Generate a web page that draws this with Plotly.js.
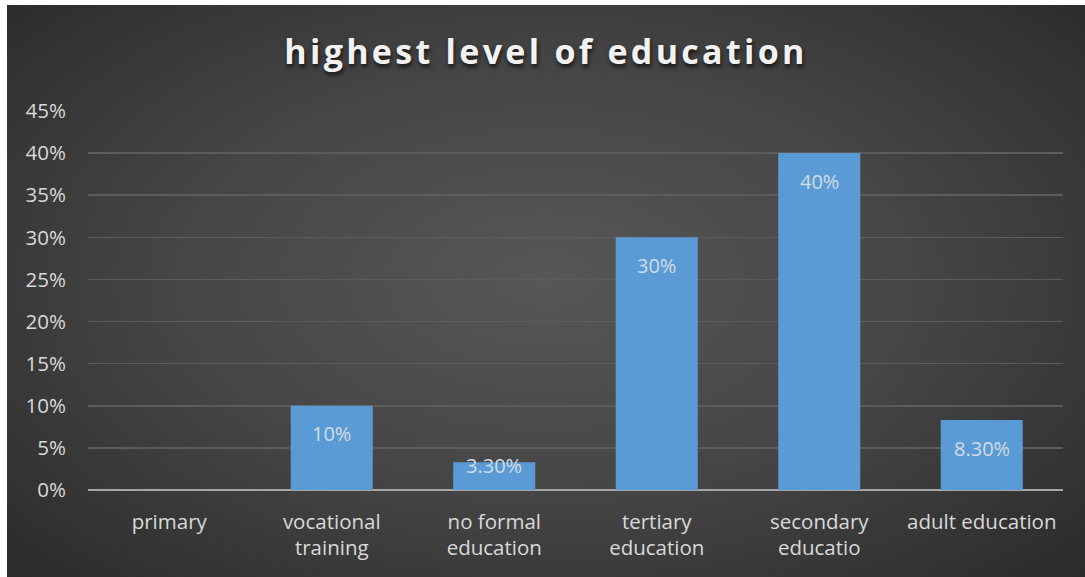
<!DOCTYPE html>
<html>
<head>
<meta charset="utf-8">
<script src="https://cdn.plot.ly/plotly-3.0.1.min.js"></script>
<style>
  html, body { margin: 0; padding: 0; background: #ffffff; width: 1085px; height: 577px; overflow: hidden; }
  #frame {
    position: absolute; left: 7px; top: 5px; width: 1078px; height: 572px;
    background: radial-gradient(ellipse 75% 80% at 50% 48%, #575757 0%, #464646 45%, #2f2f2f 85%, #272727 100%);
  }
  #chart { width: 1078px; height: 572px; }
  #chart .gtitle { letter-spacing: 3.3px; }
</style>
</head>
<body>
<div id="frame"><div id="chart"></div></div>
<script>
const categories = ["primary", "vocational<br>training", "no formal<br>education", "tertiary<br>education", "secondary<br>educatio", "adult education"];
const values = [0, 0.10, 0.033, 0.30, 0.40, 0.083];
const valueLabels = ["", "10%", "3.30%", "30%", "40%", "8.30%"];
const yTicks = [0, 0.05, 0.10, 0.15, 0.20, 0.25, 0.30, 0.35, 0.40, 0.45];
const yTickLabels = ["0%", "5%", "10%", "15%", "20%", "25%", "30%", "35%", "40%", "45%"];
const chartTitle = "highest level of education";

const fontFam = "'Open Sans', 'Noto Sans', sans-serif";
const yMax = 0.45;
const plotH = 572 - 106 - 87;

const trace = {
  type: "bar",
  x: categories,
  y: values,
  marker: { color: "#5b9bd5", line: { width: 0 } },
  hoverinfo: "none"
};

// Label sits inside the bar top; when the bar is too short the label rides near its top edge.
const annotations = values.map((v, i) => {
  const barPx = v / yMax * plotH;
  return {
    x: categories[i], y: v, xref: "x", yref: "y",
    text: valueLabels[i], showarrow: false,
    yanchor: "middle", yshift: barPx > 45 ? -28 : -3,
    font: { family: fontFam, size: 20, color: "#d3dbe4" }
  };
}).filter(a => a.text !== "");

const layout = {
  width: 1078, height: 572,
  paper_bgcolor: "rgba(0,0,0,0)",
  plot_bgcolor: "rgba(0,0,0,0)",
  margin: { l: 81, r: 22, t: 106, b: 87 },
  bargap: 0.495,
  showlegend: false,
  title: {
    text: "<b>" + chartTitle + "</b>",
    x: 0.5, xref: "container", xanchor: "center",
    y: 0.917, yref: "container", yanchor: "middle",
    font: { family: fontFam, size: 34, color: "#f2f2f2", shadow: "1px 3px 4px rgba(0,0,0,0.7)" }
  },
  xaxis: {
    type: "category",
    tickfont: { family: fontFam, size: 20.5, color: "#d9d9d9" },
    showgrid: false, showline: false, zeroline: false,
    ticks: "", ticklen: 0, ticklabelstandoff: 17
  },
  yaxis: {
    range: [0, yMax],
    tickvals: yTicks, ticktext: yTickLabels,
    tickfont: { family: fontFam, size: 20.5, color: "#d9d9d9" },
    showgrid: true, gridcolor: "#5c5c5c", gridwidth: 1.5,
    zeroline: true, zerolinecolor: "#a6a6a6", zerolinewidth: 2.5,
    showline: false, ticks: "", ticklabelstandoff: 21
  },
  annotations: annotations
};

Plotly.newPlot("chart", [trace], layout, { displayModeBar: false, staticPlot: true });
</script>
</body>
</html>
